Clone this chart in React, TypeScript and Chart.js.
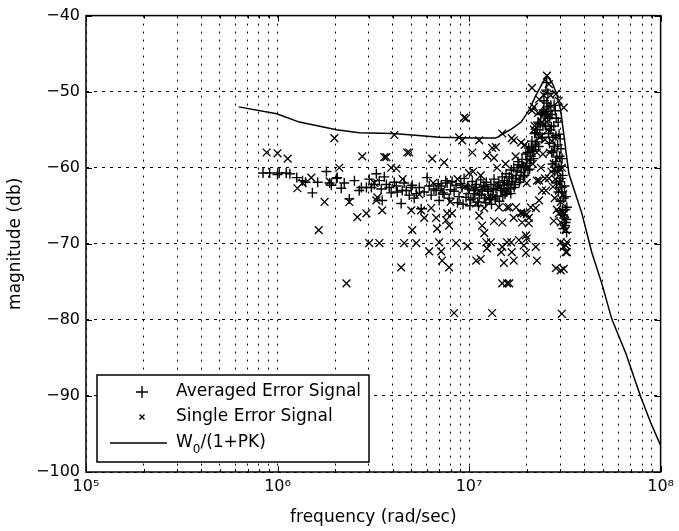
import React, { useEffect, useRef } from 'react';
import { Chart, registerables } from 'chart.js';

Chart.register(...registerables);

// ---------- data ----------
const xDecades = [5, 6, 7, 8];
const xMinorSteps = [1, 2, 3, 4, 5, 6, 7, 8, 9];
const yMin = -100;
const yMax = -40;
const yStep = 10;
const superDigits: Record<string, string> = { '5': '⁵', '6': '⁶', '7': '⁷', '8': '⁸' };

const xTitle = 'frequency (rad/sec)';
const yTitle = 'magnitude (db)';
const averagedLabel = 'Averaged Error Signal';
const singleLabel = 'Single Error Signal';
const modelLabel = 'W₀/(1+PK)';
const modelLabelParts = ['W', '0', '/(1+PK)'];

// [frequency (rad/sec), magnitude (dB)]
const averagedPoints: [number, number][] = [
  [8.4e5, -60.7], [9.1e5, -60.7], [1.0e6, -60.9], [1.02e6, -60.7], [1.11e6, -60.7], [1.16e6, -60.8],
  [1.26e6, -61.3], [1.35e6, -61.7], [1.40e6, -61.9], [1.52e6, -63.3], [1.62e6, -61.9], [1.80e6, -60.5],
  [1.87e6, -62.0], [1.91e6, -62.3], [2.03e6, -61.4], [2.05e6, -61.3], [2.15e6, -62.7], [2.23e6, -62.0],
  [2.37e6, -64.1], [2.52e6, -61.7], [2.67e6, -63.0], [2.74e6, -62.6], [2.91e6, -62.6], [3.01e6, -61.5],
  [3.09e6, -62.6], [3.20e6, -62.2], [3.28e6, -60.8], [3.40e6, -61.7], [3.48e6, -62.8], [3.52e6, -64.3],
  [3.61e6, -61.2], [3.70e6, -62.2], [3.83e6, -62.6], [3.92e6, -63.3], [4.07e6, -61.9], [4.17e6, -62.4],
  [4.22e6, -63.2], [4.42e6, -64.7], [4.48e6, -63.0], [4.58e6, -62.0], [4.70e6, -63.0], [4.87e6, -63.6],
  [4.99e6, -62.6], [5.05e6, -62.3], [5.17e6, -64.0], [5.30e6, -63.4], [5.50e6, -62.6], [5.62e6, -65.4],
  [5.83e6, -63.2], [6.04e6, -61.3], [6.19e6, -62.4], [6.34e6, -63.6], [6.55e6, -62.8], [6.73e6, -63.0],
  [6.90e6, -62.1], [6.98e6, -64.3], [7.15e6, -62.4], [7.30e6, -63.3], [7.41e6, -63.5], [7.55e6, -61.7],
  [7.68e6, -62.0], [7.87e6, -64.0], [8.0e6, -62.9], [8.15e6, -61.8], [8.35e6, -63.1], [8.55e6, -62.3],
  [8.70e6, -64.6], [8.87e6, -63.8], [9.05e6, -62.1], [9.20e6, -62.6], [9.42e6, -61.4], [9.64e6, -63.9],
  [9.82e6, -62.4], [1.0e7, -62.8], [1.02e7, -64.2], [1.04e7, -61.8], [1.06e7, -63.0], [1.07e7, -63.4],
  [1.09e7, -62.2], [1.11e7, -64.5], [1.13e7, -63.6], [1.15e7, -61.6], [1.17e7, -62.9], [1.20e7, -64.0],
  [1.21e7, -62.5], [1.23e7, -61.9], [1.26e7, -63.1], [1.28e7, -64.2], [1.30e7, -62.2], [1.32e7, -63.6],
  [1.35e7, -61.5], [1.38e7, -62.7], [1.40e7, -63.8], [1.43e7, -61.9], [1.47e7, -63.0], [1.49e7, -61.2],
  [1.52e7, -62.3], [1.54e7, -63.5], [1.56e7, -60.8], [1.58e7, -62.0], [1.62e7, -61.2], [1.64e7, -62.8],
  [1.66e7, -60.3], [1.67e7, -61.8], [1.71e7, -60.0], [1.74e7, -62.2], [1.76e7, -61.0], [1.80e7, -59.2],
  [1.82e7, -59.6], [1.85e7, -61.5], [1.87e7, -60.6], [1.89e7, -58.9], [1.93e7, -59.8], [1.95e7, -61.0],
  [1.98e7, -58.2], [2.00e7, -59.4], [2.03e7, -60.3], [2.05e7, -57.4], [2.08e7, -59.0], [2.10e7, -58.5],
  [2.13e7, -56.5], [2.15e7, -57.8], [2.18e7, -57.6], [2.20e7, -55.5], [2.23e7, -55.4], [2.26e7, -56.6],
  [2.29e7, -54.0], [2.32e7, -54.2], [2.34e7, -55.6], [2.37e7, -53.0], [2.40e7, -52.8], [2.43e7, -54.5],
  [2.46e7, -51.2], [2.49e7, -53.2], [2.52e7, -49.8], [2.54e7, -48.8], [2.55e7, -51.5], [2.58e7, -50.2],
  [2.61e7, -52.0], [2.64e7, -53.5], [2.67e7, -51.8], [2.69e7, -54.6], [2.71e7, -53.0], [2.74e7, -56.0],
  [2.77e7, -54.5], [2.80e7, -57.2], [2.82e7, -52.5], [2.84e7, -55.8], [2.87e7, -58.6], [2.90e7, -57.0],
  [2.92e7, -54.0], [2.94e7, -60.0], [2.97e7, -58.5], [2.99e7, -56.2], [3.01e7, -61.4], [3.03e7, -59.8],
  [3.05e7, -62.6], [3.08e7, -61.0], [3.10e7, -66.2], [3.12e7, -64.0], [3.15e7, -62.4], [3.16e7, -67.6],
  [3.18e7, -65.5], [3.20e7, -63.8], [3.22e7, -66.8], [3.24e7, -65.2],
  [9.3e6, -64.8], [9.9e6, -63.4], [1.01e7, -65.0], [1.05e7, -64.0], [1.08e7, -62.6], [1.12e7, -65.0],
  [1.16e7, -63.5], [1.19e7, -62.4], [1.22e7, -64.6], [1.25e7, -62.8], [1.29e7, -63.9], [1.31e7, -64.8],
  [1.34e7, -62.9], [1.37e7, -64.1], [1.41e7, -62.4], [1.44e7, -64.4], [1.46e7, -62.7], [1.50e7, -63.7],
  [1.53e7, -61.7], [1.57e7, -63.2], [1.61e7, -62.2], [1.65e7, -63.4], [1.69e7, -61.4], [1.72e7, -62.6],
  [1.78e7, -60.4], [1.83e7, -61.9], [1.88e7, -59.7], [1.92e7, -61.2], [1.97e7, -60.0], [2.02e7, -58.0],
  [2.07e7, -60.2], [2.12e7, -57.2], [2.17e7, -58.8], [2.22e7, -56.9], [2.27e7, -55.0], [2.31e7, -57.2],
  [2.36e7, -54.2], [2.41e7, -56.0], [2.45e7, -52.4], [2.50e7, -54.4], [2.53e7, -52.6], [2.57e7, -53.5],
  [2.60e7, -55.5], [2.63e7, -56.8], [2.66e7, -55.0], [2.70e7, -58.0], [2.73e7, -59.5], [2.76e7, -57.8],
  [2.79e7, -60.5], [2.83e7, -59.2], [2.86e7, -62.0], [2.89e7, -60.4], [2.93e7, -63.2], [2.96e7, -61.8],
  [3.00e7, -64.4], [3.04e7, -63.2], [3.07e7, -65.6], [3.11e7, -68.0], [3.14e7, -66.6], [3.19e7, -67.2],
  [3.23e7, -68.5], [2.85e7, -53.5], [2.78e7, -51.8], [2.95e7, -55.6], [3.02e7, -57.5], [3.06e7, -58.8],
];

const singlePoints: [number, number][] = [
  [8.77e5, -58.0], [1.0e6, -58.1], [1.13e6, -58.8], [1.27e6, -62.7], [1.35e6, -62.0], [1.50e6, -61.3],
  [1.64e6, -68.2], [1.76e6, -64.5], [1.87e6, -61.8], [1.98e6, -56.1], [2.10e6, -60.0], [2.29e6, -75.2],
  [2.37e6, -64.5], [2.61e6, -66.5], [2.77e6, -58.5], [2.91e6, -66.0], [3.01e6, -69.9], [3.28e6, -64.3],
  [3.32e6, -63.9], [3.40e6, -69.9], [3.52e6, -65.6], [3.61e6, -58.6], [3.70e6, -58.6], [3.92e6, -60.0],
  [4.07e6, -55.7], [4.17e6, -60.1], [4.42e6, -73.1], [4.58e6, -69.9], [4.75e6, -58.0], [4.87e6, -58.0],
  [4.99e6, -65.6], [5.05e6, -68.2], [5.30e6, -69.9], [5.62e6, -65.6], [5.83e6, -66.6], [6.19e6, -71.0],
  [6.34e6, -65.3], [6.42e6, -58.8], [6.73e6, -66.6], [6.81e6, -68.0], [6.98e6, -69.8], [7.15e6, -71.0],
  [7.23e6, -72.2], [7.41e6, -59.3], [7.59e6, -66.9], [7.68e6, -66.0], [7.87e6, -67.6], [7.87e6, -73.1],
  [8.15e6, -66.0], [8.35e6, -79.1], [8.55e6, -69.9], [8.87e6, -56.0], [9.20e6, -56.4], [9.42e6, -53.4],
  [9.64e6, -53.5], [9.82e6, -70.3], [1.0e7, -60.7], [1.04e7, -58.0], [1.09e7, -72.2], [1.09e7, -64.7],
  [1.13e7, -56.4], [1.13e7, -63.0], [1.13e7, -66.3], [1.15e7, -72.0], [1.17e7, -67.6], [1.20e7, -65.3],
  [1.20e7, -68.6], [1.23e7, -69.8], [1.24e7, -70.6], [1.24e7, -58.4], [1.30e7, -69.8], [1.32e7, -79.1],
  [1.32e7, -57.4], [1.35e7, -58.7], [1.35e7, -67.0], [1.38e7, -57.3], [1.49e7, -55.5], [1.49e7, -70.4],
  [1.49e7, -75.2], [1.52e7, -72.5], [1.58e7, -69.8], [1.58e7, -75.2], [1.62e7, -65.2], [1.66e7, -69.8],
  [1.67e7, -71.1], [1.67e7, -56.1], [1.71e7, -56.4], [1.71e7, -72.2], [1.76e7, -65.2], [1.82e7, -69.5],
  [1.87e7, -56.7], [1.87e7, -66.0], [1.89e7, -67.2], [1.93e7, -66.0], [1.93e7, -70.2], [1.98e7, -68.9],
  [1.98e7, -71.2], [2.00e7, -66.1], [2.05e7, -59.0], [2.05e7, -66.6], [2.05e7, -67.3], [2.10e7, -65.2],
  [2.13e7, -49.5], [2.13e7, -52.5], [2.18e7, -52.0], [2.23e7, -65.3], [2.23e7, -70.4], [2.26e7, -72.2],
  [2.26e7, -61.7], [2.32e7, -64.3], [2.32e7, -51.0], [2.40e7, -63.0], [2.52e7, -63.0], [2.49e7, -61.4],
  [2.55e7, -47.9], [2.61e7, -49.0], [2.77e7, -67.0], [2.84e7, -50.3], [2.84e7, -73.2], [2.94e7, -51.2],
  [2.94e7, -66.0], [3.01e7, -67.2], [3.01e7, -73.5], [3.05e7, -79.2], [3.12e7, -52.1], [3.12e7, -67.6],
  [3.12e7, -73.3], [3.12e7, -70.4], [3.20e7, -68.2], [3.20e7, -71.1], [3.24e7, -69.8],
  [3.2e6, -62.0], [4.5e6, -61.5], [5.5e6, -63.5], [6.5e6, -62.0], [7.2e6, -63.0], [8.0e6, -64.5],
  [8.7e6, -61.5], [9.5e6, -62.5], [1.05e7, -60.5], [1.15e7, -61.0], [1.25e7, -64.0], [1.40e7, -60.0],
  [1.45e7, -62.5], [1.55e7, -59.5], [1.60e7, -63.0], [1.75e7, -58.5], [1.80e7, -61.5], [1.95e7, -57.0],
  [2.0e7, -62.0], [2.15e7, -59.5], [2.2e7, -54.5],
  [2.26e7, -58.0], [2.34e7, -56.0], [2.40e7, -54.0], [2.46e7, -50.5], [2.52e7, -52.5], [2.58e7, -55.0],
  [2.64e7, -58.0], [2.69e7, -60.5], [2.74e7, -62.5], [2.80e7, -64.0], [2.87e7, -65.5], [2.94e7, -63.0],
  [3.01e7, -64.5], [3.08e7, -65.8], [3.16e7, -66.0], [2.37e7, -60.0], [2.43e7, -58.2], [2.49e7, -56.3],
  [2.55e7, -54.0], [2.61e7, -53.0], [2.67e7, -50.5], [2.71e7, -56.5], [2.77e7, -59.5], [2.82e7, -61.5],
  [2.90e7, -60.5], [2.97e7, -62.0], [3.05e7, -60.0], [3.10e7, -63.5], [2.29e7, -52.8], [2.18e7, -55.0],
  [2.32e7, -61.7], [2.61e7, -61.4], [1.87e7, -65.9], [1.58e7, -65.2], [1.43e7, -65.2], [1.49e7, -67.2],
  [1.71e7, -66.6], [3.01e7, -69.8], [3.20e7, -70.2], [3.24e7, -71.1], [1.47e7, -71.1], [2.0e7, -69.3],
  [1.62e7, -75.2],
];

const modelPoints: [number, number][] = [
  [6.27e5, -52.0], [9.9e5, -52.9], [1.3e6, -54.0], [2.03e6, -55.0], [2.67e6, -55.4], [3.97e6, -55.5],
  [5.05e6, -55.7], [6.98e6, -56.0], [1.04e7, -56.1], [1.38e7, -56.1], [1.49e7, -55.6], [1.67e7, -54.9],
  [1.87e7, -54.0], [2.05e7, -52.5], [2.23e7, -50.5], [2.40e7, -49.0], [2.55e7, -47.9], [2.71e7, -48.8],
  [2.87e7, -50.3], [3.01e7, -52.5], [3.20e7, -57.7], [3.32e7, -60.8], [3.88e7, -66.0], [4.38e7, -71.2],
  [4.93e7, -75.2], [5.56e7, -79.9], [6.58e7, -84.4], [7.87e7, -90.1], [8.87e7, -93.5], [1.0e8, -96.5],
];

// ---------- helpers ----------
const FONT = '"DejaVu Sans", "Liberation Sans", sans-serif';

const toXY = (pts: [number, number][]) => pts.map(([x, y]) => ({ x, y }));

const isDecade = (v: number) => {
  const l = Math.log10(v);
  return Math.abs(l - Math.round(l)) < 1e-9;
};

const framePlugin = {
  id: 'matlabFrame',
  afterDatasetsDraw(chart: any) {
    const { ctx, chartArea: a, scales } = chart;
    ctx.save();
    ctx.setLineDash([]);
    ctx.strokeStyle = '#000';
    ctx.lineWidth = 1;
    ctx.beginPath();
    scales.x.ticks.forEach((t: any) => {
      const px = Math.round(scales.x.getPixelForValue(t.value)) + 0.5;
      const len = isDecade(t.value) ? 6 : 3;
      ctx.moveTo(px, a.bottom);
      ctx.lineTo(px, a.bottom - len);
      ctx.moveTo(px, a.top);
      ctx.lineTo(px, a.top + len);
    });
    scales.y.ticks.forEach((t: any) => {
      const py = Math.round(scales.y.getPixelForValue(t.value)) + 0.5;
      ctx.moveTo(a.left, py);
      ctx.lineTo(a.left + 6, py);
      ctx.moveTo(a.right, py);
      ctx.lineTo(a.right - 6, py);
    });
    ctx.stroke();
    ctx.lineWidth = 1.5;
    ctx.strokeRect(a.left, a.top, a.right - a.left, a.bottom - a.top);
    ctx.restore();
  },
  afterDraw(chart: any) {
    const { ctx, chartArea: a } = chart;
    const bw = 272;
    const bh = 87;
    const bx = a.left + 11;
    const by = a.bottom - 10 - bh;
    ctx.save();
    ctx.setLineDash([]);
    ctx.fillStyle = '#fff';
    ctx.fillRect(bx, by, bw, bh);
    ctx.strokeStyle = '#000';
    ctx.lineWidth = 1.5;
    ctx.strokeRect(bx, by, bw, bh);

    const rows = [by + 17, by + 42, by + 68];
    const symX = bx + 45;
    const textX = bx + 79;

    ctx.lineWidth = 1.4;
    ctx.beginPath();
    ctx.moveTo(symX - 6, rows[0]);
    ctx.lineTo(symX + 6, rows[0]);
    ctx.moveTo(symX, rows[0] - 6);
    ctx.lineTo(symX, rows[0] + 6);
    ctx.moveTo(symX - 2.5, rows[1] - 2.5);
    ctx.lineTo(symX + 2.5, rows[1] + 2.5);
    ctx.moveTo(symX - 2.5, rows[1] + 2.5);
    ctx.lineTo(symX + 2.5, rows[1] - 2.5);
    ctx.moveTo(bx + 13, rows[2]);
    ctx.lineTo(bx + 70, rows[2]);
    ctx.stroke();

    ctx.fillStyle = '#000';
    ctx.textAlign = 'left';
    ctx.textBaseline = 'middle';
    ctx.font = `17px ${FONT}`;
    ctx.fillText(chart.data.datasets[0].label, textX, rows[0]);
    ctx.fillText(chart.data.datasets[1].label, textX, rows[1]);
    const [p0, p1, p2] = modelLabelParts;
    ctx.fillText(p0, textX, rows[2]);
    const w0 = ctx.measureText(p0).width;
    ctx.font = `12px ${FONT}`;
    ctx.fillText(p1, textX + w0, rows[2] + 7);
    const w1 = ctx.measureText(p1).width;
    ctx.font = `17px ${FONT}`;
    ctx.fillText(p2, textX + w0 + w1, rows[2]);
    ctx.restore();
  },
};

export default function App() {
  const canvasRef = useRef<HTMLCanvasElement | null>(null);

  useEffect(() => {
    const canvas = canvasRef.current;
    if (!canvas) return;

    const xTickValues: number[] = [];
    for (let i = 0; i < xDecades.length - 1; i++) {
      for (const m of xMinorSteps) xTickValues.push(m * Math.pow(10, xDecades[i]));
    }
    xTickValues.push(Math.pow(10, xDecades[xDecades.length - 1]));

    const chart = new Chart(canvas, {
      type: 'scatter',
      data: {
        datasets: [
          {
            label: averagedLabel,
            data: toXY(averagedPoints),
            pointStyle: 'cross',
            pointRadius: 5,
            pointBorderWidth: 1.4,
            borderColor: '#000',
            backgroundColor: '#000',
            showLine: false,
          },
          {
            label: singleLabel,
            data: toXY(singlePoints),
            pointStyle: 'crossRot',
            pointRadius: 5.5,
            pointBorderWidth: 1.3,
            borderColor: '#000',
            backgroundColor: '#000',
            showLine: false,
          },
          {
            label: modelLabel,
            data: toXY(modelPoints),
            showLine: true,
            pointRadius: 0,
            borderColor: '#000',
            borderWidth: 1.5,
            tension: 0,
          },
        ],
      },
      options: {
        responsive: false,
        animation: false,
        devicePixelRatio: 1,
        layout: { padding: { top: 15, right: 16, left: 0, bottom: 0 } },
        plugins: {
          legend: { display: false },
          tooltip: { enabled: false },
        },
        scales: {
          x: {
            type: 'logarithmic',
            min: Math.pow(10, xDecades[0]),
            max: Math.pow(10, xDecades[xDecades.length - 1]),
            afterBuildTicks: (scale: any) => {
              scale.ticks = xTickValues.map((v) => ({ value: v, major: isDecade(v) }));
            },
            afterFit: (scale: any) => {
              scale.height = 59;
            },
            ticks: {
              autoSkip: false,
              maxRotation: 0,
              minRotation: 0,
              padding: 5,
              color: '#000',
              font: { family: FONT, size: 16 },
              callback: (value: any) => {
                const v = Number(value);
                if (!isDecade(v)) return '';
                const e = String(Math.round(Math.log10(v)));
                return '10' + e.split('').map((c) => superDigits[c] || c).join('');
              },
            },
            grid: { color: '#000', lineWidth: 1, drawTicks: false },
            border: { display: false, dash: [2, 6] },
            title: {
              display: true,
              text: xTitle,
              color: '#000',
              font: { family: FONT, size: 17 },
              padding: { top: 0, bottom: 3 },
            },
          },
          y: {
            type: 'linear',
            min: yMin,
            max: yMax,
            afterFit: (scale: any) => {
              scale.width = 86;
            },
            ticks: {
              stepSize: yStep,
              padding: 6,
              color: '#000',
              font: { family: FONT, size: 16 },
              callback: (value: any) => {
                const v = Number(value);
                return v < 0 ? '\u2212' + Math.abs(v) : String(v);
              },
            },
            grid: { color: '#000', lineWidth: 1, drawTicks: false },
            border: { display: false, dash: [3, 5] },
            title: {
              display: true,
              text: yTitle,
              color: '#000',
              font: { family: FONT, size: 17 },
              padding: { top: 5, bottom: 0 },
            },
          },
        },
      },
      plugins: [framePlugin],
    });

    return () => chart.destroy();
  }, []);

  return (
    <div style={{ position: 'fixed', left: 0, top: 0, width: 679, height: 531, background: '#fff' }}>
      <canvas ref={canvasRef} width={679} height={531} style={{ width: 679, height: 531, display: 'block' }} />
    </div>
  );
}
